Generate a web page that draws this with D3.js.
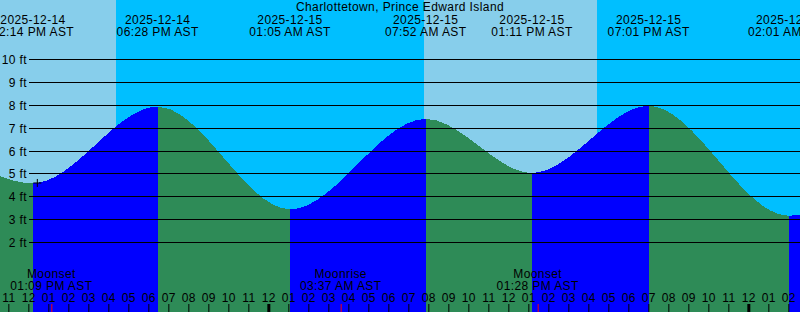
<!DOCTYPE html>
<html>
<head>
<meta charset="utf-8">
<script src="https://cdn.jsdelivr.net/npm/d3@7"></script>
<style>
  body { margin: 0; background: #fff; }
  svg { display: block; }
  text { font-family: "Liberation Sans", Arial, sans-serif; font-size: 12px; letter-spacing: 0.4px; fill: #000; }
</style>
</head>
<body>
<svg id="chart"></svg>
<script>
// chart size
var width = 800;
var height = 312;

var title = "Charlottetown, Prince Edward Island";

// tide extremes (one before and one after the visible window)
var tideTimes = ["2025-12-14 05:55", "2025-12-14 12:14", "2025-12-14 18:28", "2025-12-15 01:05",
                 "2025-12-15 07:52", "2025-12-15 13:11", "2025-12-15 19:01", "2025-12-16 02:01",
                 "2025-12-16 08:30"];
var tideHeights = [7.9, 4.57, 7.92, 3.43, 7.38, 5.02, 7.95, 3.15, 7.4];

// daylight periods (lighter background)
var dayStarts = ["2025-12-14 07:46", "2025-12-15 07:47"];
var dayEnds = ["2025-12-14 16:23", "2025-12-15 16:26"];

// moon events
var moonLabels = ["Moonset", "Moonrise", "Moonset"];
var moonTimes = ["2025-12-14 13:09", "2025-12-15 03:37", "2025-12-15 13:28"];

// current time marker
var nowTime = "2025-12-14 12:27";
var nowHeight = 4.58;

var feetTicks = [2, 3, 4, 5, 6, 7, 8, 9, 10];
var timeStart = "2025-12-14 10:35";
var timeEnd = "2025-12-16 02:35";

var parse = d3.timeParse("%Y-%m-%d %H:%M");
var fmtDate = d3.timeFormat("%Y-%m-%d");
var fmtTime = d3.timeFormat("%I:%M %p AST");

var tides = tideTimes.map(function(t, i) { return {t: parse(t), h: tideHeights[i]}; });

var x = d3.scaleTime()
    .domain([parse(timeStart), parse(timeEnd)])
    .range([0, width]);

var y = d3.scaleLinear()
    .domain([0, 10])
    .range([287.75, 59]);

var svg = d3.select("#chart")
    .attr("width", width)
    .attr("height", height);

// night background, then daylight
svg.append("rect")
    .attr("width", width).attr("height", height)
    .attr("fill", "#00bfff");

svg.selectAll(".day")
    .data(dayStarts)
    .enter().append("rect")
    .attr("class", "day")
    .attr("x", function(d) { return Math.max(0, x(parse(d))); })
    .attr("width", function(d, i) { return x(parse(dayEnds[i])) - Math.max(0, x(parse(d))); })
    .attr("y", 0).attr("height", height)
    .attr("fill", "#87ceeb");

// tide area, coloured by rising / falling
var area = d3.area()
    .x(function(d) { return x(d.t); })
    .y0(height)
    .y1(function(d) { return y(d.h); })
    .curve(d3.curveMonotoneX);

var defs = svg.append("defs");
var segs = d3.range(tides.length - 1);

defs.selectAll("clipPath")
    .data(segs)
    .enter().append("clipPath")
    .attr("id", function(i) { return "seg" + i; })
    .append("rect")
    .attr("x", function(i) { return Math.round(x(tides[i].t)); })
    .attr("width", function(i) { return Math.round(x(tides[i + 1].t)) - Math.round(x(tides[i].t)); })
    .attr("y", 0).attr("height", height);

svg.selectAll(".tide")
    .data(segs)
    .enter().append("path")
    .attr("class", "tide")
    .attr("d", area(tides))
    .attr("clip-path", function(i) { return "url(#seg" + i + ")"; })
    .attr("fill", function(i) { return tides[i + 1].h > tides[i].h ? "#0000ff" : "#2e8b57"; })
    .attr("shape-rendering", "crispEdges");

// horizontal feet lines
svg.selectAll(".grid")
    .data(feetTicks)
    .enter().append("line")
    .attr("x1", 29).attr("x2", width)
    .attr("y1", function(d) { return Math.round(y(d)) + 0.5; })
    .attr("y2", function(d) { return Math.round(y(d)) + 0.5; })
    .attr("stroke", "#000");

svg.selectAll(".ylab")
    .data(feetTicks)
    .enter().append("text")
    .attr("x", 27)
    .attr("y", function(d) { return Math.round(y(d)) + 4.5; })
    .attr("text-anchor", "end")
    .text(function(d) { return d + " ft"; });

// title
svg.append("text")
    .attr("x", width / 2).attr("y", 11)
    .attr("text-anchor", "middle")
    .text(title);

// high / low labels at top
var shown = tides.filter(function(d) { return d.t >= x.domain()[0] && d.t <= x.domain()[1]; });
var tideLab = svg.selectAll(".tlab")
    .data(shown)
    .enter().append("g")
    .attr("class", "tlab")
    .attr("transform", function(d) { return "translate(" + x(d.t) + ",0)"; });
tideLab.append("text").attr("y", 24).attr("text-anchor", "middle").text(function(d) { return fmtDate(d.t); });
tideLab.append("text").attr("y", 36).attr("text-anchor", "middle").text(function(d) { return fmtTime(d.t); });

// moon labels
var moon = svg.selectAll(".moon")
    .data(moonTimes)
    .enter().append("g")
    .attr("class", "moon")
    .attr("transform", function(d) { return "translate(" + x(parse(d)) + ",0)"; });
moon.append("text").attr("y", 278).attr("text-anchor", "middle").text(function(d, i) { return moonLabels[i]; });
moon.append("text").attr("y", 290).attr("text-anchor", "middle").text(function(d) { return fmtTime(parse(d)); });
moon.append("line")
    .attr("x1", 0.5).attr("x2", 0.5)
    .attr("y1", 304).attr("y2", height)
    .attr("stroke", "#ff0000");

// hour axis
var xAxis = d3.axisTop(x)
    .ticks(d3.timeHour.every(1))
    .tickSize(8)
    .tickPadding(2.5)
    .tickFormat(d3.timeFormat("%I"));

var ax = svg.append("g")
    .attr("transform", "translate(0," + height + ")")
    .call(xAxis);
ax.select(".domain").remove();
ax.attr("font-family", null).attr("font-size", null);
ax.selectAll(".tick line")
    .attr("stroke", "#000")
    .attr("stroke-width", function(d) { return d.getHours() === 0 ? 3 : 1; });

// now marker
svg.append("path")
    .attr("d", "M" + (x(parse(nowTime)) - 4) + "," + y(nowHeight) + "h8M" + x(parse(nowTime)) + "," + (y(nowHeight) - 4) + "v8")
    .attr("stroke", "#000")
    .attr("fill", "none");
</script>
</body>
</html>
